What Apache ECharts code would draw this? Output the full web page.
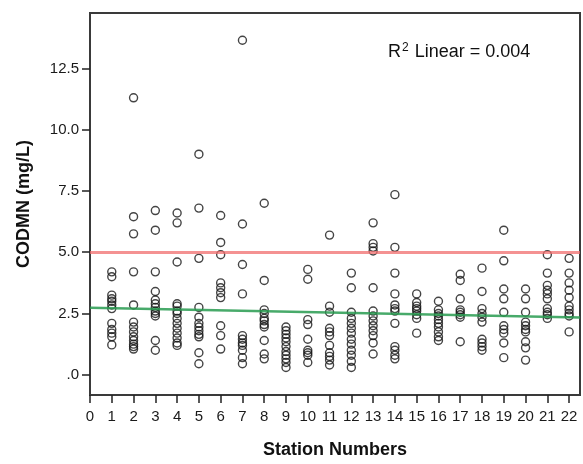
<!DOCTYPE html>
<html>
<head>
<meta charset="utf-8">
<script src="https://cdn.jsdelivr.net/npm/echarts@6/dist/echarts.min.js"></script>
<style>
  html, body { margin: 0; padding: 0; background: #fff; }
  #chart { width: 583px; height: 464px; }
</style>
</head>
<body>
<div id="chart"></div>
<script>
// Station numbers along the x axis
const stations = [1, 2, 3, 4, 5, 6, 7, 8, 9, 10, 11, 12, 13, 14, 15, 16, 17, 18, 19, 20, 21, 22];

// CODMN readings (mg/L) per station, same order as `stations`
const codmnByStation = [
  [4.2, 4.0, 3.25, 3.1, 3.0, 2.85, 2.7, 2.1, 1.85, 1.7, 1.55, 1.22],
  [11.3, 6.45, 5.75, 4.2, 2.85, 2.15, 1.95, 1.75, 1.55, 1.4, 1.25, 1.15, 1.05],
  [6.7, 5.9, 4.2, 3.4, 3.05, 2.9, 2.75, 2.6, 2.5, 2.4, 1.4, 1.0],
  [6.6, 6.2, 4.6, 2.9, 2.8, 2.6, 2.5, 2.3, 2.1, 1.9, 1.7, 1.5, 1.3, 1.2],
  [9.0, 6.8, 4.75, 2.75, 2.35, 2.1, 1.95, 1.8, 1.65, 1.55, 0.9, 0.45],
  [6.5, 5.4, 4.9, 3.75, 3.55, 3.35, 3.15, 2.0, 1.6, 1.05],
  [13.65, 6.15, 4.5, 3.3, 1.6, 1.45, 1.3, 1.2, 1.0, 0.7, 0.45],
  [7.0, 3.85, 2.65, 2.5, 2.3, 2.2, 2.05, 1.95, 1.4, 0.85, 0.65],
  [1.95, 1.8, 1.65, 1.5, 1.35, 1.15, 0.95, 0.8, 0.65, 0.5, 0.3],
  [4.3, 3.9, 2.25, 2.05, 1.45, 1.0, 0.9, 0.8, 0.5],
  [5.7, 2.8, 2.55, 1.9, 1.75, 1.6, 1.2, 0.9, 0.75, 0.6, 0.4],
  [4.15, 3.55, 2.55, 2.3, 2.1, 1.9, 1.7, 1.45, 1.25, 1.0, 0.8, 0.55, 0.3],
  [6.2, 5.35, 5.2, 5.05, 3.55, 2.6, 2.4, 2.2, 2.0, 1.8, 1.6, 1.3, 0.85],
  [7.35, 5.2, 4.15, 3.3, 2.85, 2.7, 2.6, 2.1, 1.15, 1.0, 0.8, 0.65],
  [3.3, 2.95, 2.8, 2.7, 2.6, 2.45, 2.3, 1.7],
  [3.0, 2.65, 2.5, 2.4, 2.25, 2.1, 1.95, 1.75, 1.55, 1.4],
  [4.1, 3.85, 3.1, 2.65, 2.55, 2.45, 2.35, 1.35],
  [4.35, 3.4, 2.7, 2.5, 2.35, 2.15, 1.45, 1.3, 1.15, 1.0],
  [5.9, 4.65, 3.5, 3.1, 2.55, 2.0, 1.85, 1.7, 1.3, 0.7],
  [3.5, 3.1, 2.55, 2.15, 2.0, 1.85, 1.75, 1.35, 1.1, 0.6],
  [4.9, 4.15, 3.65, 3.45, 3.3, 3.1, 2.7, 2.55, 2.45, 2.3],
  [4.75, 4.15, 3.75, 3.45, 3.15, 2.8, 2.65, 2.5, 2.4, 1.75]
];

// Axis ticks and labels
const xTickValues = [0, 1, 2, 3, 4, 5, 6, 7, 8, 9, 10, 11, 12, 13, 14, 15, 16, 17, 18, 19, 20, 21, 22];
const yTickValues = [0, 2.5, 5, 7.5, 10, 12.5];
const yTickLabels = ['.0', '2.5', '5.0', '7.5', '10.0', '12.5'];

// Guideline level and fitted linear trend
const guideLevel = 5.0;
const fitIntercept = 2.74;
const fitSlope = -0.018;
const rSquaredText = '0.004';

const xMin = 0, xMax = 22.5;
const yMin = -0.824, yMax = 14.76;

const points = [];
stations.forEach((s, i) => {
  codmnByStation[i].forEach(v => points.push([s, v]));
});

const fitLine = [
  [xMin, fitIntercept + fitSlope * xMin],
  [xMax, fitIntercept + fitSlope * xMax]
];

const FONT = '"Liberation Sans", Arial, sans-serif';

const chart = echarts.init(document.getElementById('chart'), null, { renderer: 'canvas' });
chart.setOption({
  animation: false,
  backgroundColor: '#ffffff',
  grid: {
    left: 90, top: 13, right: 3, bottom: 67,
    show: true, borderColor: '#3a3a3a', borderWidth: 2, backgroundColor: 'transparent'
  },
  xAxis: {
    type: 'value',
    min: xMin, max: xMax,
    name: 'Station Numbers',
    nameLocation: 'middle',
    nameGap: 46,
    nameTextStyle: { fontFamily: FONT, fontSize: 18, fontWeight: 'bold', color: '#111' },
    axisLine: { show: true, onZero: false, lineStyle: { color: '#3a3a3a', width: 2 } },
    axisTick: { show: true, customValues: xTickValues, length: 8, lineStyle: { color: '#222', width: 1.5 } },
    axisLabel: {
      customValues: xTickValues, margin: 14,
      fontFamily: FONT, fontSize: 15, color: '#1a1a1a',
      formatter: v => String(v)
    },
    splitLine: { show: false }
  },
  yAxis: {
    type: 'value',
    min: yMin, max: yMax,
    name: 'CODMN (mg/L)',
    nameLocation: 'middle',
    nameGap: 57,
    nameRotate: 90,
    nameTextStyle: { fontFamily: FONT, fontSize: 18, fontWeight: 'bold', color: '#111' },
    axisLine: { show: true, onZero: false, lineStyle: { color: '#3a3a3a', width: 2 } },
    axisTick: { show: true, customValues: yTickValues, length: 8, lineStyle: { color: '#222', width: 1.5 } },
    axisLabel: {
      customValues: yTickValues, margin: 11,
      fontFamily: FONT, fontSize: 15, color: '#1a1a1a',
      formatter: v => {
        const idx = yTickValues.findIndex(t => Math.abs(t - v) < 1e-6);
        return idx >= 0 ? yTickLabels[idx] : '';
      }
    },
    splitLine: { show: false }
  },
  series: [
    {
      type: 'scatter',
      data: points,
      symbol: 'circle',
      symbolSize: 8,
      itemStyle: { color: 'rgba(0,0,0,0)', borderColor: '#151515', borderWidth: 1.4 },
      z: 2
    },
    {
      type: 'line',
      data: fitLine,
      showSymbol: false,
      symbol: 'none',
      lineStyle: { color: 'rgba(40,155,80,0.85)', width: 2.5 },
      z: 3,
      markLine: {
        silent: true,
        symbol: ['none', 'none'],
        label: { show: false },
        lineStyle: { color: 'rgba(240,110,110,0.75)', width: 3, type: 'solid' },
        data: [{ yAxis: guideLevel }]
      }
    }
  ],
  graphic: [
    {
      type: 'text',
      left: 388,
      top: 42,
      style: {
        text: '{r|R}{s|2}{r| Linear = ' + rSquaredText + '}',
        rich: {
          r: { fontFamily: FONT, fontSize: 18, fill: '#111', lineHeight: 22 },
          s: { fontFamily: FONT, fontSize: 12, fill: '#111', lineHeight: 22, padding: [0, 1, 8, 1] }
        }
      }
    }
  ]
});
</script>
</body>
</html>
